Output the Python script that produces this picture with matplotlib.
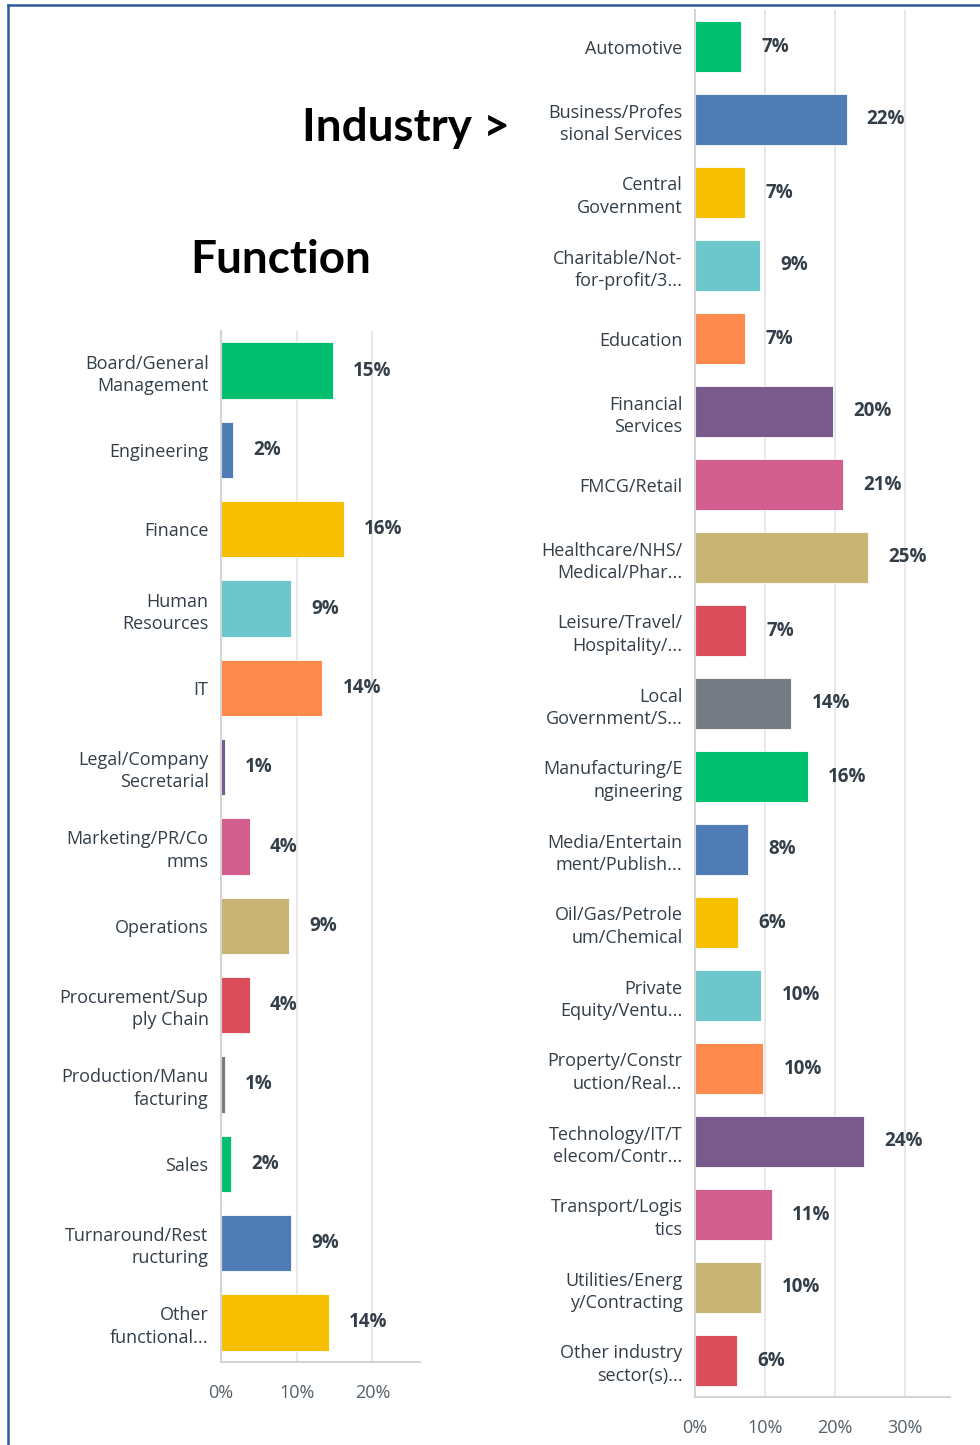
import matplotlib
matplotlib.use("Agg")
import matplotlib.pyplot as plt
from matplotlib.lines import Line2D

# ---- data ----
FUNC_LABELS = ["Board/General\nManagement", "Engineering", "Finance", "Human\nResources", "IT",
               "Legal/Company\nSecretarial", "Marketing/PR/Co\nmms", "Operations",
               "Procurement/Sup\nply Chain", "Production/Manu\nfacturing", "Sales",
               "Turnaround/Rest\nructuring", "Other\nfunctional..."]
FUNC_VALUES = [14.8, 1.6, 16.2, 9.3, 13.4, 0.5, 3.8, 9.0, 3.8, 0.5, 1.3, 9.3, 14.3]
FUNC_PCT = [15, 2, 16, 9, 14, 1, 4, 9, 4, 1, 2, 9, 14]

IND_LABELS = ["Automotive", "Business/Profes\nsional Services", "Central\nGovernment",
              "Charitable/Not-\nfor-profit/3...", "Education", "Financial\nServices",
              "FMCG/Retail", "Healthcare/NHS/\nMedical/Phar...", "Leisure/Travel/\nHospitality/...",
              "Local\nGovernment/S...", "Manufacturing/E\nngineering", "Media/Entertain\nment/Publish...",
              "Oil/Gas/Petrole\num/Chemical", "Private\nEquity/Ventu...", "Property/Constr\nuction/Real...",
              "Technology/IT/T\nelecom/Contr...", "Transport/Logis\ntics", "Utilities/Energ\ny/Contracting",
              "Other industry\nsector(s)..."]
IND_VALUES = [6.6, 21.7, 7.2, 9.3, 7.2, 19.8, 21.2, 24.8, 7.3, 13.8, 16.2, 7.6, 6.2, 9.5, 9.8,
              24.2, 11.0, 9.5, 6.0]
IND_PCT = [7, 22, 7, 9, 7, 20, 21, 25, 7, 14, 16, 8, 6, 10, 10, 24, 11, 10, 6]

PALETTE = ["#00BF6F", "#507CB6", "#F6BF00", "#6BC7CC", "#FF8A4D", "#785B8C",
           "#D25E8D", "#C8B575", "#DC4D5C", "#767B83"]

TEXT = "#333E48"
plt.rcParams["font.family"] = ["Open Sans", "DejaVu Sans"]


def bar_panel(ax, labels, values, pcts, xmax, ticks, px_per_unit):
    n = len(labels)
    colors = [PALETTE[i % len(PALETTE)] for i in range(n)]
    ax.barh(range(n), values, height=0.71, color=colors, edgecolor="white",
            linewidth=0.6, zorder=3)
    ax.set_ylim(n - 0.5, -0.5)
    ax.set_xlim(0, xmax)
    ax.set_yticks(range(n))
    ax.set_yticklabels(labels, fontsize=13, color=TEXT, linespacing=1.3)
    ax.set_xticks(ticks)
    ax.set_xticklabels([f"{t}%" for t in ticks], fontsize=13, color="#555f68")
    ax.tick_params(length=0, axis="y", pad=9)
    ax.tick_params(length=0, axis="x", pad=16)
    ax.grid(axis="x", color="#e6e6e6", lw=1.3, zorder=0)
    ax.set_axisbelow(True)
    for s in ["top", "right"]:
        ax.spines[s].set_visible(False)
    ax.spines["left"].set_color("#d4d4d4")
    ax.spines["left"].set_linewidth(1.5)
    ax.spines["left"].set_zorder(4)
    ax.spines["bottom"].set_color("#d4d4d4")
    ax.spines["bottom"].set_linewidth(1.5)
    off = 20 / px_per_unit
    for i, (v, p) in enumerate(zip(values, pcts)):
        ax.text(v + off, i, f"{p}%", va="center", ha="left", fontsize=13.5,
                fontweight="bold", color=TEXT)


fig = plt.figure(figsize=(9.8, 14.45), dpi=100)
W, H = 980, 1445

ax1 = fig.add_axes([221 / W, 1 - 1362 / H, (420 - 221) / W, (1362 - 331) / H])
bar_panel(ax1, FUNC_LABELS, FUNC_VALUES, FUNC_PCT, 26.3, [0, 10, 20], 7.57)

ax2 = fig.add_axes([695 / W, 1 - 1397 / H, (950 - 695) / W, (1397 - 10) / H])
bar_panel(ax2, IND_LABELS, IND_VALUES, IND_PCT, 36.5, [0, 10, 20, 30], 6.98)

fig.text(406 / W, 1 - 128 / H, "Industry >", fontsize=33, fontweight="bold",
         family=["Lato", "DejaVu Sans"], ha="center", va="center", color="black")
fig.text(281 / W, 1 - 260 / H, "Function", fontsize=33, fontweight="bold",
         family=["Lato", "DejaVu Sans"], ha="center", va="center", color="black")

# frame lines (top and left only visible in crop)
fig.add_artist(Line2D([8 / W, 8 / W], [0, 1 - 5 / H], color="#2E5C9A", lw=1.8))
fig.add_artist(Line2D([8 / W, 1], [1 - 5 / H, 1 - 5 / H], color="#2E5C9A", lw=1.8))

fig.savefig("out.png", dpi=100)
